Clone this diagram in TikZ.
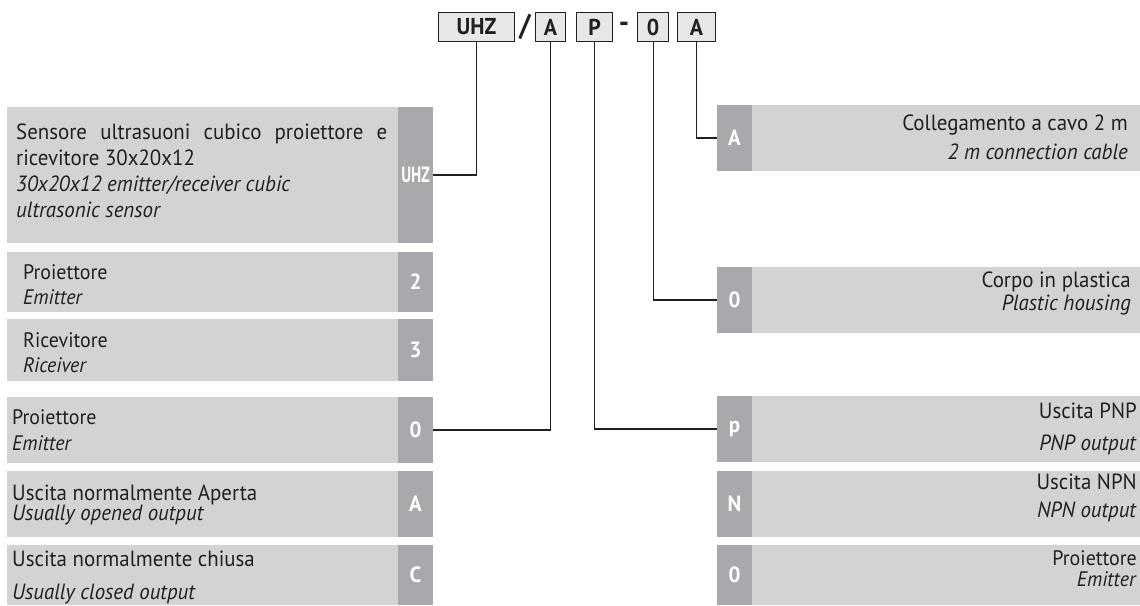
\documentclass[tikz,border=0pt]{standalone}
\usepackage{fontspec}
\setmainfont{PT Sans}[FakeStretch=0.95]
\definecolor{ink}{HTML}{231F20}
\definecolor{boxgray}{HTML}{D1D3D4}
\definecolor{tabgray}{HTML}{A7A9AC}
\definecolor{topfill}{HTML}{E6E7E8}
\newcommand\fsz[2]{\fontsize{#1}{#2}\selectfont}
\newcommand\leftrow[4]{%
  \node[lbox, minimum height=#3pt] (#1) at (7,#2) {};
  \node[tabbox, anchor=north east, minimum height=#3pt] (#1t) at (#1.north east) {#4};
}
\newcommand\rightrow[4]{%
  \node[rbox, minimum height=#3pt] (#1) at (717,#2) {};
  \node[tabbox, anchor=north west, minimum height=#3pt] (#1t) at (#1.north west) {#4};
}
\begin{document}
\begin{tikzpicture}[x=1pt,y=-1pt,
  lbox/.style={fill=boxgray, inner sep=0, outer sep=0, anchor=north west, minimum width=426pt},
  rbox/.style={fill=boxgray, inner sep=0, outer sep=0, anchor=north west, minimum width=423pt},
  tabbox/.style={fill=tabgray, text=white, font=\bfseries\fsz{22}{22}, inner sep=0, outer sep=0, minimum width=35pt},
  topbox/.style={draw=ink, fill=topfill, line width=1.1pt, text=ink, font=\bfseries\fsz{23}{23}, inner sep=0, minimum height=29pt, anchor=north west},
  sep/.style={text=ink, font=\bfseries\fsz{30}{30}, inner sep=0},
  ltxt/.style={anchor=base west, align=left, inner sep=0, text=ink},
  rtxt/.style={anchor=base east, align=right, inner sep=0, text=ink},
  conn/.style={draw=ink, line width=1.1pt}
]
\useasboundingbox (0,0) rectangle (1140,605);

% code boxes on top
\node[topbox, minimum width=76pt] (cU) at (438,12) {UHZ};
\node[sep] (sl) at (525,27) {/};
\node[topbox, minimum width=30pt] (cA) at (535,12) {A};
\node[topbox, minimum width=36pt] (cP) at (576,12) {P};
\node[sep] (ds) at (624,27) {-};
\node[topbox, minimum width=31pt] (cO) at (637,12) {0};
\node[topbox, minimum width=38pt] (cA2) at (677,12) {A};

% left rows
\leftrow{L1}{107}{136}{\scalebox{0.75}[1]{UHZ}}
\leftrow{L2}{252}{60}{2}
\leftrow{L3}{319}{62}{3}
\leftrow{L4}{397}{66}{0}
\leftrow{L5}{471}{66}{A}
\leftrow{L6}{545}{60}{C}

% right rows
\rightrow{R1}{105}{66}{A}
\rightrow{R2}{267}{66}{0}
\rightrow{R3}{396}{66}{p}
\rightrow{R4}{471}{66}{N}
\rightrow{R5}{545}{60}{0}

% left texts (anchored at the baseline of the last line)
\node[ltxt, font=\fsz{22}{26}] (L1x) at (16,217)
  {\makebox[371pt][s]{Sensore ultrasuoni cubico proiettore e}\\ricevitore 30x20x12\\\textit{30x20x12 emitter/receiver cubic}\\\textit{ultrasonic sensor}};
\node[ltxt, font=\fsz{21}{25}] (L2x) at (23,304) {Proiettore\\\textit{Emitter}};
\node[ltxt, font=\fsz{21}{25}] (L3x) at (23,372) {Ricevitore\\\textit{Riceiver}};
\node[ltxt, font=\fsz{21}{26}] (L4x) at (12,450) {Proiettore\\\textit{Emitter}};
\node[ltxt, font=\fsz{22}{20}] (L5x) at (12,520) {Uscita normalmente Aperta\\\textit{Usually opened output}};
\node[ltxt, font=\fsz{22}{33}] (L6x) at (12,599) {Uscita normalmente chiusa\\\textit{Usually closed output}};

% right texts
\node[rtxt, font=\fsz{22}{29}] (R1x) at (1128,159) {Collegamento a cavo 2 m\\\textit{2 m connection cable}};
\node[rtxt, font=\fsz{22}{23}] (R2x) at (1131,310) {Corpo in plastica\\\textit{Plastic housing}};
\node[rtxt, font=\fsz{22}{32}] (R3x) at (1137,450) {Uscita PNP\\\textit{PNP output}};
\node[rtxt, font=\fsz{22}{28}] (R4x) at (1137,517) {Uscita NPN\\\textit{NPN output}};
\node[rtxt, font=\fsz{21}{21}] (R5x) at (1137,586) {Proiettore\\\textit{Emitter}};

% connectors
\draw[conn] (cU.south) |- (L1t.east);
\draw[conn] (cA.south) |- (L4t.east);
\draw[conn] (cP.south) |- (R3t.west);
\draw[conn] (cO.south) |- (R2t.west);
\draw[conn] (cA2.south) |- (R1t.west);
\end{tikzpicture}
\end{document}
